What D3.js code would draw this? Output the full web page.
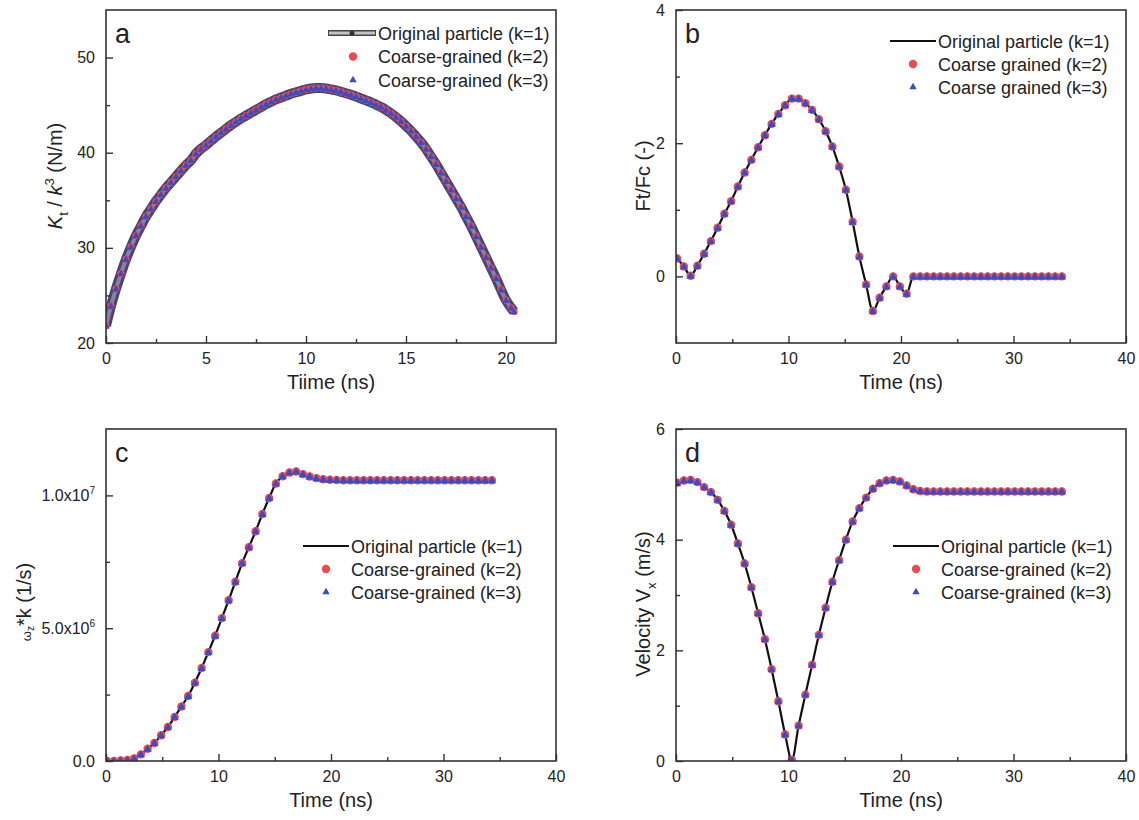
<!DOCTYPE html>
<html>
<head>
<meta charset="utf-8">
<script src="https://cdn.jsdelivr.net/npm/d3@7"></script>
<style>
body { margin: 0; background: #fff; }
text { font-family: "Liberation Sans", Arial, sans-serif; fill: #222; }
</style>
</head>
<body>
<svg id="chart" width="1139" height="820"></svg>
<script>
const svg = d3.select("#chart")

// ---------- data ----------

// panel a : K_t / k^3 (N/m) vs time, sampled every 0.25 ns
const tA = [0,0.25,0.5,0.75,1,1.25,1.5,1.75,2,2.25,2.5,2.75,3,3.25,3.5,3.75,4,4.25,4.5,4.75,
    5,5.25,5.5,5.75,6,6.25,6.5,6.75,7,7.25,7.5,7.75,8,8.25,8.5,8.75,9,9.25,9.5,9.75,
    10,10.25,10.5,10.75,11,11.25,11.5,11.75,12,12.25,12.5,12.75,13,13.25,13.5,13.75,14,14.25,14.5,14.75,
    15,15.25,15.5,15.75,16,16.25,16.5,16.75,17,17.25,17.5,17.75,18,18.25,18.5,18.75,19,19.25,19.5,19.75,
    20,20.25,20.4]
const stiffK1 = [21.8,23.9,25.7,27.3,28.8,30.1,31.3,32.3,33.3,34.1,34.9,35.6,36.3,36.9,37.5,38.1,38.7,39.2,39.9,40.4,
    40.8,41.25,41.7,42.1,42.5,42.9,43.25,43.6,43.9,44.2,44.5,44.8,45.1,45.35,45.6,45.8,46.0,46.2,46.35,46.5,
    46.65,46.75,46.8,46.8,46.75,46.65,46.55,46.4,46.25,46.1,45.9,45.7,45.5,45.3,45.05,44.8,44.5,44.15,43.75,43.3,
    42.8,42.3,41.7,41.1,40.4,39.6,38.8,37.9,37.0,36.1,35.2,34.3,33.3,32.3,31.2,30.1,29.0,27.9,26.8,25.6,
    24.5,23.7,23.3]
// the coarse-grained runs lie exactly on the original curve in the figure
const stiffK2 = stiffK1
const stiffK3 = stiffK1

// panels b, c, d share one output grid (ns)
const tGrid = [0.1,0.7,1.3,1.9,2.5,3.1,3.7,4.3,4.9,5.5,6.1,6.7,7.3,7.9,8.5,9.1,9.7,10.3,10.9,11.5,
    12.1,12.7,13.3,13.9,14.5,15.1,15.7,16.3,16.9,17.5,18.1,18.7,19.3,19.9,20.5,21.1,21.7,22.3,22.9,23.5,
    24.1,24.7,25.3,25.9,26.5,27.1,27.7,28.3,28.9,29.5,30.1,30.7,31.3,31.9,32.5,33.1,33.7,34.3]

// panel b : Ft/Fc (-)
const forceK1 = [0.27,0.15,0.01,0.16,0.34,0.53,0.73,0.94,1.13,1.35,1.56,1.75,1.94,2.12,2.29,2.44,2.57,2.67,2.67,2.60,
    2.50,2.36,2.18,1.95,1.65,1.30,0.82,0.30,-0.12,-0.52,-0.32,-0.15,0.00,-0.15,-0.26,0.00,0,0,0,0,
    0,0,0,0,0,0,0,0,0,0,0,0,0,0,0,0,0,0]
const forceK2 = forceK1
const forceK3 = forceK1

// panel c : omega_z * k (1/s), in units of 1e6
const omegaK1 = [0.00,0.00,0.02,0.04,0.10,0.25,0.46,0.68,0.97,1.28,1.66,2.05,2.45,2.95,3.50,4.10,4.72,5.38,6.05,6.75,
    7.45,8.05,8.65,9.30,9.90,10.45,10.72,10.86,10.90,10.80,10.71,10.65,10.61,10.59,10.58,10.57,10.57,10.57,10.57,10.57,
    10.57,10.57,10.57,10.57,10.57,10.57,10.57,10.57,10.57,10.57,10.57,10.57,10.57,10.57,10.57,10.57,10.57,10.57]
const omegaK2 = omegaK1
const omegaK3 = omegaK1

// panel d : velocity V_x (m/s)
const velK1 = [5.03,5.07,5.08,5.04,4.95,4.86,4.72,4.52,4.27,3.93,3.57,3.14,2.67,2.20,1.66,1.08,0.48,0.02,0.64,1.20,
    1.74,2.28,2.77,3.24,3.63,4.00,4.33,4.57,4.76,4.92,5.02,5.07,5.08,5.05,4.98,4.91,4.88,4.87,4.87,4.87,
    4.87,4.87,4.87,4.87,4.87,4.87,4.87,4.87,4.87,4.87,4.87,4.87,4.87,4.87,4.87,4.87,4.87,4.87]
const velK2 = velK1
const velK3 = velK1

const legendA = ["Original particle (k=1)", "Coarse-grained (k=2)", "Coarse-grained (k=3)"]
const legendB = ["Original particle (k=1)", "Coarse grained (k=2)", "Coarse grained (k=3)"]

// ---------- drawing ----------

const RED = "#ec4a52", BLUE = "#3a4cc4", FRAME = "#333"

// text with sub/superscripts; shift in px relative to baseline
function richText(sel, parts, size) {
    let shift = 0
    parts.forEach(p => {
        const s = p.sub ? size * 0.28 : p.sup ? -size * 0.42 : (p.shift || 0)
        const ts = sel.append("tspan").text(p.s).attr("dy", s - shift)
        shift = s
        if (p.it) ts.attr("font-style", "italic")
        ts.attr("font-size", p.size || ((p.sub || p.sup) ? size * 0.65 : size))
    })
}

function drawPanel(p) {
    const g = svg.append("g")
    const x = d3.scaleLinear().domain(p.xDomain).range([p.left, p.right])
    const y = d3.scaleLinear().domain(p.yDomain).range([p.bottom, p.top])

    const clipId = "clip-" + p.letter
    g.append("clipPath").attr("id", clipId)
        .append("rect")
        .attr("x", p.left).attr("y", p.top)
        .attr("width", p.right - p.left).attr("height", p.bottom - p.top)

    const pts = p.t.map((t, i) => ({t: t, k1: p.k1[i], k2: p.k2[i], k3: p.k3[i]}))
    const plot = g.append("g").attr("clip-path", `url(#${clipId})`)

    const line = d3.line().x(d => x(d.t)).y(d => y(d.k1)).curve(d3.curveMonotoneX)
    if (p.symLine) {
        // thick outlined line (line+symbol style of the k=1 run)
        plot.append("path").datum(pts).attr("d", line)
            .attr("fill", "none").attr("stroke", "#4a4470").attr("stroke-width", 10)
        plot.append("path").datum(pts).attr("d", line)
            .attr("fill", "none").attr("stroke", "#8a7fa6").attr("stroke-width", 4)
    } else {
        plot.append("path").datum(pts).attr("d", line)
            .attr("fill", "none").attr("stroke", "#111").attr("stroke-width", 2.2)
    }

    const r = p.markR || 4.2
    plot.selectAll("circle.k2").data(pts).enter().append("circle")
        .attr("class", "k2")
        .attr("cx", d => x(d.t)).attr("cy", d => y(d.k2))
        .attr("r", r).attr("fill", RED)

    const tri = d3.symbol(d3.symbolTriangle).size(p.triSize || 30)
    plot.selectAll("path.k3").data(pts).enter().append("path")
        .attr("class", "k3")
        .attr("d", tri)
        .attr("transform", d => `translate(${x(d.t)},${y(d.k3) + 0.6})`)
        .attr("fill", BLUE)

    // axes, ticks pointing inwards
    function styleAxis(s) {
        s.select(".domain").remove()
        s.attr("color", FRAME).attr("font-size", 16)
            .attr("font-family", '"Liberation Sans", Arial, sans-serif')
        s.selectAll("line").attr("stroke-width", 1.4)
        s.selectAll("text").attr("fill", "#222")
    }
    g.append("g").attr("transform", `translate(0,${p.bottom})`)
        .call(d3.axisBottom(x).tickValues(p.xTicks).tickSizeInner(-7).tickSizeOuter(0)
            .tickPadding(10).tickFormat(d3.format("d")))
        .call(styleAxis)
    g.append("g").attr("transform", `translate(0,${p.bottom})`)
        .call(d3.axisBottom(x).tickValues(p.xMinor).tickSizeInner(-4).tickSizeOuter(0).tickFormat(""))
        .call(styleAxis)
    const yAx = g.append("g").attr("transform", `translate(${p.left},0)`)
        .call(d3.axisLeft(y).tickValues(p.yTicks).tickSizeInner(-7).tickSizeOuter(0)
            .tickPadding(11).tickFormat(d3.format("d")))
        .call(styleAxis)
    g.append("g").attr("transform", `translate(${p.left},0)`)
        .call(d3.axisLeft(y).tickValues(p.yMinor).tickSizeInner(-4).tickSizeOuter(0).tickFormat(""))
        .call(styleAxis)

    if (p.yLabels) {
        yAx.selectAll(".tick text").each(function(d, i) {
            const t = d3.select(this).text(null)
            const lab = p.yLabels[i]
            t.append("tspan").text(lab[0])
            if (lab[1]) t.append("tspan").text(lab[1]).attr("font-size", 10).attr("dy", "-0.7em")
        })
    }

    g.append("rect")
        .attr("x", p.left).attr("y", p.top)
        .attr("width", p.right - p.left).attr("height", p.bottom - p.top)
        .attr("fill", "none").attr("stroke", FRAME).attr("stroke-width", 1.6)

    // panel letter
    g.append("text").attr("x", p.left + 9).attr("y", p.top + 33)
        .attr("font-size", 27).text(p.letter)

    // axis titles
    g.append("text").attr("x", (p.left + p.right) / 2).attr("y", p.bottom + 46)
        .attr("text-anchor", "middle").attr("font-size", 20).text(p.xTitle)
    const yt = g.append("text")
        .attr("transform", `translate(${p.yTitleX + 7},${p.yTitleY}) rotate(-90)`)
        .attr("text-anchor", "middle")
    richText(yt, p.yTitle, 20)

    // legend
    const L = p.legend
    const triL = d3.symbol(d3.symbolTriangle).size(24)
    p.legendLabels.forEach((lab, i) => {
        const cy = L.y + i * L.dy
        if (i === 0) {
            if (p.symLine) {
                g.append("line").attr("x1", L.x - 50).attr("x2", L.x - 2).attr("y1", cy).attr("y2", cy)
                    .attr("stroke", "#444").attr("stroke-width", 6)
                g.append("line").attr("x1", L.x - 49).attr("x2", L.x - 3).attr("y1", cy).attr("y2", cy)
                    .attr("stroke", "#c4c4c4").attr("stroke-width", 3)
                g.append("circle").attr("cx", L.x - 26).attr("cy", cy).attr("r", 2.5).attr("fill", "#333")
            } else {
                g.append("line").attr("x1", L.x - 48).attr("x2", L.x - 2).attr("y1", cy).attr("y2", cy)
                    .attr("stroke", "#111").attr("stroke-width", 2.2)
            }
        } else if (i === 1) {
            g.append("circle").attr("cx", L.x - 25).attr("cy", cy).attr("r", 4.2).attr("fill", RED)
        } else {
            g.append("path").attr("d", triL).attr("transform", `translate(${L.x - 25},${cy})`).attr("fill", BLUE)
        }
        g.append("text").attr("x", L.x).attr("y", cy + 6.5).attr("font-size", 18).text(lab)
    })
}

drawPanel({
    letter: "a", left: 106, right: 556, top: 10, bottom: 343,
    xDomain: [0, 22.5], yDomain: [20, 55],
    xTicks: [0, 5, 10, 15, 20], xMinor: [2.5, 7.5, 12.5, 17.5],
    yTicks: [20, 30, 40, 50], yMinor: [25, 35, 45],
    t: tA, k1: stiffK1, k2: stiffK2, k3: stiffK3, symLine: true, markR: 3.6, triSize: 24,
    xTitle: "Tiime (ns)",
    yTitle: [{s: "K", it: true}, {s: "t", sub: true}, {s: " / "}, {s: "k", it: true}, {s: "3", sup: true}, {s: " (N/m)"}],
    yTitleX: 55, yTitleY: 176,
    legend: {x: 378, y: 33, dy: 23.5}, legendLabels: legendA
})

drawPanel({
    letter: "b", left: 676, right: 1126, top: 10, bottom: 343,
    xDomain: [0, 40], yDomain: [-1, 4],
    xTicks: [0, 10, 20, 30, 40], xMinor: [5, 15, 25, 35],
    yTicks: [0, 2, 4], yMinor: [1, 3],
    t: tGrid, k1: forceK1, k2: forceK2, k3: forceK3,
    xTitle: "Time (ns)",
    yTitle: [{s: "Ft/Fc (-)"}],
    yTitleX: 643, yTitleY: 176,
    legend: {x: 938, y: 41, dy: 23}, legendLabels: legendB
})

drawPanel({
    letter: "c", left: 106, right: 556, top: 429, bottom: 761,
    xDomain: [0, 40], yDomain: [0, 12.5],
    xTicks: [0, 10, 20, 30, 40], xMinor: [5, 15, 25, 35],
    yTicks: [0, 5, 10], yMinor: [2.5, 7.5],
    yLabels: [["0.0", ""], ["5.0x10", "6"], ["1.0x10", "7"]],
    t: tGrid, k1: omegaK1, k2: omegaK2, k3: omegaK3,
    xTitle: "Time (ns)",
    yTitle: [{s: "\u03c9", size: 13, shift: 0}, {s: "z", size: 10, shift: 3}, {s: "*k (1/s)", shift: 0}],
    yTitleX: 24, yTitleY: 602,
    legend: {x: 351, y: 546, dy: 23}, legendLabels: legendA
})

drawPanel({
    letter: "d", left: 676, right: 1126, top: 429, bottom: 761,
    xDomain: [0, 40], yDomain: [0, 6],
    xTicks: [0, 10, 20, 30, 40], xMinor: [5, 15, 25, 35],
    yTicks: [0, 2, 4, 6], yMinor: [1, 3, 5],
    t: tGrid, k1: velK1, k2: velK2, k3: velK3,
    xTitle: "Time (ns)",
    yTitle: [{s: "Velocity V"}, {s: "x", sub: true}, {s: " (m/s)"}],
    yTitleX: 643, yTitleY: 604,
    legend: {x: 941, y: 546, dy: 23}, legendLabels: legendA
})
</script>
</body>
</html>
